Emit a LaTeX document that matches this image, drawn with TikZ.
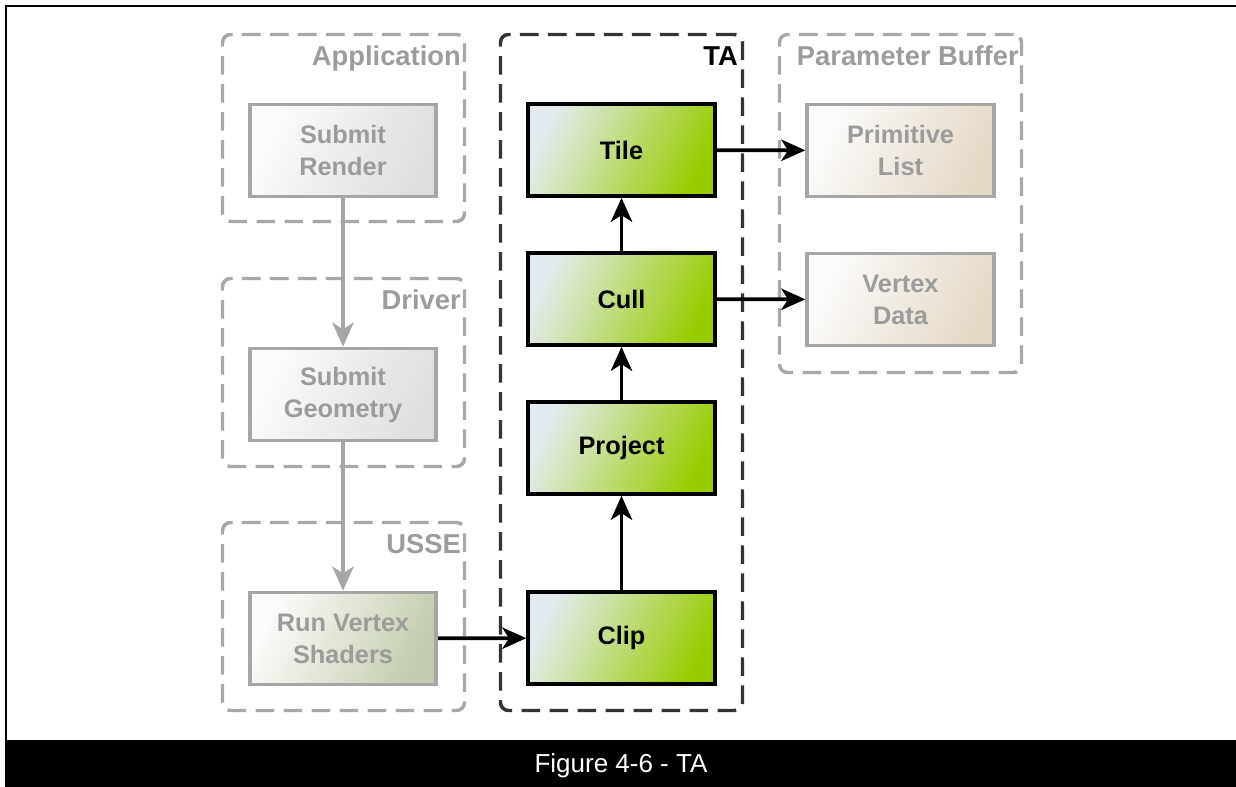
\documentclass[tikz,border=0pt]{standalone}
\usepackage{fontspec}
\setmainfont{Liberation Sans}
\usetikzlibrary{arrows.meta,fit}

\definecolor{grpgray}{HTML}{A8A8A8}
\definecolor{tagray}{HTML}{333333}
\definecolor{txtgray}{HTML}{9C9C9C}
\definecolor{boxgray}{HTML}{A6A6A6}
\definecolor{greenlo}{HTML}{E4EBF0}
\definecolor{greenhi}{HTML}{99CC00}
\definecolor{graylo}{HTML}{FCFCFC}
\definecolor{grayhi}{HTML}{DEDEDE}
\definecolor{olivehi}{HTML}{C3CCAC}
\definecolor{beigehi}{HTML}{E4D8C7}

\tikzset{
  group/.style={draw=grpgray, line width=2.6pt, dash pattern=on 14pt off 7pt,
    rounded corners=6pt, inner sep=0pt},
  tagroup/.style={group, draw=tagray},
  glabel/.style={font=\bfseries\fontsize{20.5}{24}\selectfont, text=txtgray,
    anchor=base east, inner sep=0pt},
  stagebox/.style={rectangle, minimum width=140pt, minimum height=69pt,
    line width=2.8pt, align=center, inner sep=0pt,
    font=\bfseries\fontsize{19}{24}\selectfont},
  tabox/.style={stagebox, draw=black, text=black,
    top color=greenlo, bottom color=greenhi, shading angle=65},
  swbox/.style={stagebox, draw=boxgray, text=txtgray,
    top color=graylo, bottom color=grayhi, shading angle=65},
  usbox/.style={swbox, top color=graylo, bottom color=olivehi, shading angle=65},
  pbbox/.style={swbox, top color=graylo, bottom color=beigehi, shading angle=65},
  garrow/.style={draw=boxgray, line width=2.8pt,
    -{Stealth[length=18pt, width=16pt, inset=5pt]}},
  barrow/.style={draw=black, line width=2.8pt,
    -{Stealth[length=18pt, width=16pt, inset=5pt]}},
}

\begin{document}
\begin{tikzpicture}[x=0.75pt, y=-0.75pt]
\useasboundingbox (0,0) rectangle (1236,787);

% page frame and caption bar
\fill[black] (5,740) rectangle (1236,787);
\draw[black, line width=1.5pt] (6,740) -- (6,6) -- (1236,6);
\node[text=white, font=\fontsize{19.5}{23}\selectfont] (caption) at (621,766) {Figure 4-6 - TA};

% group labels
\node[glabel] (applbl) at (461,66) {Application};
\node[glabel] (drvlbl) at (461,310) {Driver};
\node[glabel] (usselbl) at (461,554) {USSE};
\node[glabel, text=black] (talbl) at (738,66) {TA};
\node[glabel] (pblbl) at (1019,66) {Parameter Buffer};

% dashed group frames
\node[group, fit={(222.5,34.5) (464.5,221.5)}] (app) {};
\node[group, fit={(222.5,278.5) (464.5,466.5)}] (drv) {};
\node[group, fit={(222.5,522.5) (464.5,710.5)}] (usse) {};
\node[tagroup, fit={(500.5,34.5) (742.5,710.5)}] (ta) {};
\node[group, fit={(779.5,34.5) (1021.5,372.5)}] (pb) {};

% stages
\node[swbox] (sr) at (343,150.5) {Submit\\Render};
\node[swbox] (sg) at (343,394.5) {Submit\\Geometry};
\node[usbox] (rvs) at (343,638.5) {Run Vertex\\Shaders};
\node[tabox] (tile) at (621.5,150) {Tile};
\node[tabox] (cull) at (621.5,299) {Cull};
\node[tabox] (proj) at (621.5,448) {Project};
\node[tabox] (clip) at (621.5,638) {Clip};
\node[pbbox] (pl) at (900.5,150.5) {Primitive\\List};
\node[pbbox] (vd) at (900.5,299.5) {Vertex\\Data};

% connectors
\draw[garrow] (sr) -- (sg);
\draw[garrow] (sg) -- (rvs);
\draw[barrow] (rvs) -- (clip);
\draw[barrow] (clip) -- (proj);
\draw[barrow] (proj) -- (cull);
\draw[barrow] (cull) -- (tile);
\draw[barrow] (tile) -- (pl);
\draw[barrow] (cull) -- (vd);
\end{tikzpicture}
\end{document}
